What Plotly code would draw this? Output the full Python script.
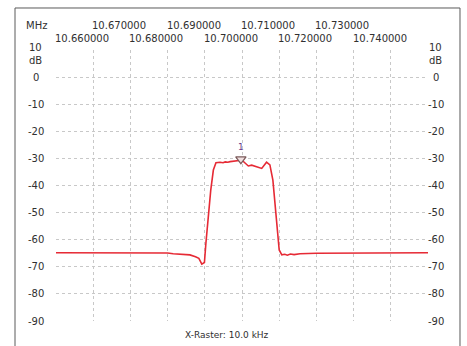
import plotly.graph_objects as go

# ---- data ----
freq_mhz = [10.6600, 10.6700, 10.6800, 10.6900, 10.6915, 10.6933, 10.6960, 10.6975,
            10.6984, 10.6992, 10.6999, 10.7003, 10.7009, 10.7016, 10.7023, 10.7030,
            10.7041, 10.7049, 10.7055, 10.7062, 10.7068, 10.7077, 10.7086, 10.7092,
            10.7097, 10.7108, 10.7117, 10.7126, 10.7140, 10.7153, 10.7166, 10.7175,
            10.7183, 10.7189, 10.7195, 10.7200, 10.7207, 10.7215, 10.7222, 10.7230,
            10.7240, 10.7256, 10.7300, 10.7400, 10.7600]
level_db = [-64.8, -64.8, -64.9, -64.9, -65.2, -65.3, -65.6, -66.3,
            -66.9, -69.0, -68.4, -61.2, -51.5, -41.7, -34.3, -31.6,
            -31.4, -31.6, -31.3, -31.4, -31.2, -31.1, -31.0, -30.8,
            -30.3, -31.8, -32.8, -32.5, -33.1, -33.7, -31.4, -32.4,
            -38.0, -47.8, -56.4, -63.8, -65.6, -65.4, -65.7, -65.3,
            -65.5, -65.2, -65.0, -64.9, -64.8]

marker_freq = [10.7097]
marker_level = [-30.3]
marker_label = ["1"]

x_ticks_bottom = [10.660, 10.680, 10.700, 10.720, 10.740]
x_ticks_top = [10.670, 10.690, 10.710, 10.730]
y_ticks = [0, -10, -20, -30, -40, -50, -60, -70, -80, -90]
y_top_label = 10

x_range = [10.66, 10.76]
y_range = [-90, 10]

TXT = "#303030"
FONT = "DejaVu Sans"

fig = go.Figure()
fig.add_trace(go.Scatter(x=freq_mhz, y=level_db, mode="lines",
                         line=dict(color="#e62a35", width=1.6), hoverinfo="skip"))
fig.add_trace(go.Scatter(x=marker_freq, y=marker_level, mode="markers+text",
                         text=marker_label, textposition="top center",
                         textfont=dict(family=FONT, size=9, color="#6a3a8a"),
                         marker=dict(symbol="triangle-down", size=9, color="#f0e0e0",
                                     line=dict(color="#7a5a5a", width=1.2)),
                         hoverinfo="skip"))

grid = dict(showgrid=True, gridcolor="#c8c8c8", griddash="dot", gridwidth=1,
            zeroline=False, showline=False, showticklabels=False, ticks="")
fig.update_xaxes(range=x_range, dtick=0.01, tick0=10.66, **grid)
fig.update_yaxes(range=y_range, dtick=10, tick0=-90, **grid)

ann = []
for v in x_ticks_bottom:
    ann.append(dict(x=v, y=1.0406, xref="x", yref="paper", text=f"{v:.6f}",
                    xanchor="left", yanchor="middle", xshift=-3, showarrow=False))
for v in x_ticks_top:
    ann.append(dict(x=v, y=1.0886, xref="x", yref="paper", text=f"{v:.6f}",
                    xanchor="left", yanchor="middle", xshift=-3, showarrow=False))
ann.append(dict(x=-0.0525, y=1.0886, xref="paper", yref="paper", text="MHz",
                xanchor="center", yanchor="middle", showarrow=False))
for xp in (-0.0538, 1.0215):
    for v in y_ticks:
        ann.append(dict(x=xp, y=v, xref="paper", yref="y", text=str(v),
                        xanchor="center", yanchor="middle", showarrow=False))
    ann.append(dict(x=xp, y=y_top_label, xref="paper", yref="y", text=str(y_top_label),
                    xanchor="center", yanchor="middle", yshift=3, showarrow=False))
    ann.append(dict(x=xp, y=y_top_label, xref="paper", yref="y", text="dB",
                    xanchor="center", yanchor="middle", yshift=-10, showarrow=False))
ann.append(dict(x=0.4589, y=-0.0517, xref="paper", yref="paper", text="X-Raster: 10.0 kHz",
                xanchor="center", yanchor="middle", showarrow=False,
                font=dict(family=FONT, size=9, color=TXT)))

fig.update_layout(
    width=467, height=346,
    margin=dict(l=56, r=39, t=50, b=25),
    paper_bgcolor="white", plot_bgcolor="white",
    showlegend=False,
    font=dict(family=FONT, size=10, color=TXT),
    annotations=ann,
    shapes=[dict(type="rect", xref="paper", yref="paper",
                 x0=-0.1102, x1=1.086, y0=-0.11, y1=1.155,
                 line=dict(color="#5a5a5a", width=1), layer="below")],
)

fig.write_html("out.html", config={"displayModeBar": False},
               post_script="document.body.style.margin='0';document.body.style.overflow='hidden';")
